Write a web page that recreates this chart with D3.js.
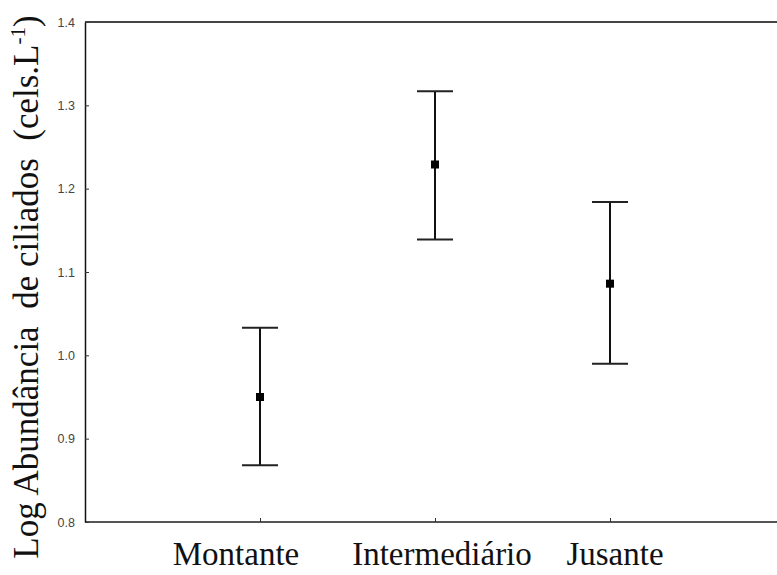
<!DOCTYPE html>
<html>
<head>
<meta charset="utf-8">
<script src="https://cdn.jsdelivr.net/npm/d3@7"></script>
<style>
  html, body { margin: 0; padding: 0; background: #fff; }
  svg { display: block; }
</style>
</head>
<body>
<script>
// Sites along the river and the log abundance of ciliates (mean ± interval)
const categories = ["Montante", "Intermediário", "Jusante"];
const means = [0.950, 1.229, 1.086];
const upper = [1.033, 1.317, 1.184];
const lower = [0.868, 1.139, 0.990];
const yTicks = [0.8, 0.9, 1.0, 1.1, 1.2, 1.3, 1.4];

const W = 777, H = 575;
const plotLeft = 85, plotTop = 22, plotBottom = 522, plotRight = 785;
const SERIF = "'Liberation Serif', 'Times New Roman', serif";
const SANS = "'Liberation Sans', Arial, sans-serif";

const svg = d3.select("body").append("svg")
  .attr("width", W).attr("height", H);

const x = d3.scalePoint().domain(categories).range([plotLeft, plotRight]).padding(1);
const y = d3.scaleLinear().domain([0.8, 1.4]).range([plotBottom, plotTop]);

// Frame: left axis, top and bottom lines (open on the right)
svg.append("line").attr("x1", plotLeft).attr("x2", W).attr("y1", plotTop).attr("y2", plotTop)
  .attr("stroke", "#444").attr("stroke-width", 2);
svg.append("line").attr("x1", plotLeft).attr("x2", W).attr("y1", plotBottom).attr("y2", plotBottom)
  .attr("stroke", "#555").attr("stroke-width", 2);

// Y axis with inward ticks
const yAxis = svg.append("g").attr("transform", `translate(${plotLeft},0)`)
  .call(d3.axisLeft(y).tickValues(yTicks).tickFormat(d3.format(".1f")).tickSizeInner(-4).tickSizeOuter(0).tickPadding(10));
yAxis.attr("font-family", null);
yAxis.select(".domain").attr("stroke", "#111").attr("stroke-width", 1.5);
yAxis.selectAll(".tick line").attr("stroke", "#333");
yAxis.selectAll("text").style("font-family", SANS)
  .style("font-size", "12.5px").attr("fill", "#444");

// X axis ticks pointing up into the plot
const xAxis = svg.append("g").attr("transform", `translate(0,${plotBottom})`)
  .call(d3.axisBottom(x).tickSizeInner(-4).tickSizeOuter(0).tickFormat(""));
xAxis.select(".domain").remove();
xAxis.selectAll(".tick line").attr("stroke", "#333");

// Category labels under the axis
const labelShift = { "Montante": -24, "Intermediário": 7, "Jusante": 5 };
svg.append("g").selectAll("text").data(categories).join("text")
  .attr("x", d => x(d) + labelShift[d])
  .attr("y", 565)
  .attr("text-anchor", "middle")
  .style("font-family", SERIF)
  .style("font-size", "33px")
  .attr("fill", "#111")
  .text(d => d);

// Error bars with caps and square mean markers
const capW = 18;
const g = svg.append("g");
categories.forEach((c, i) => {
  const cx = x(c);
  g.append("line").attr("x1", cx).attr("x2", cx).attr("y1", y(upper[i])).attr("y2", y(lower[i]))
    .attr("stroke", "#111").attr("stroke-width", 2);
  [upper[i], lower[i]].forEach(v => {
    g.append("line").attr("x1", cx - capW).attr("x2", cx + capW).attr("y1", y(v)).attr("y2", y(v))
      .attr("stroke", "#222").attr("stroke-width", 2);
  });
  g.append("rect").attr("x", cx - 4).attr("y", y(means[i]) - 4).attr("width", 8).attr("height", 8)
    .attr("fill", "#000");
});

// Y axis title
const title = svg.append("text")
  .attr("transform", `translate(38,${(12 + 562) / 2}) rotate(-90)`)
  .attr("text-anchor", "middle")
  .style("font-family", SERIF)
  .style("font-size", "35px")
  .attr("fill", "#111")
  .style("white-space", "pre");
title.append("tspan").text("Log Abundância  de ciliados  (cels.L");
title.append("tspan").attr("dy", -13).style("font-size", "21px").text("-1");
title.append("tspan").attr("dy", 13).text(")");
</script>
</body>
</html>
